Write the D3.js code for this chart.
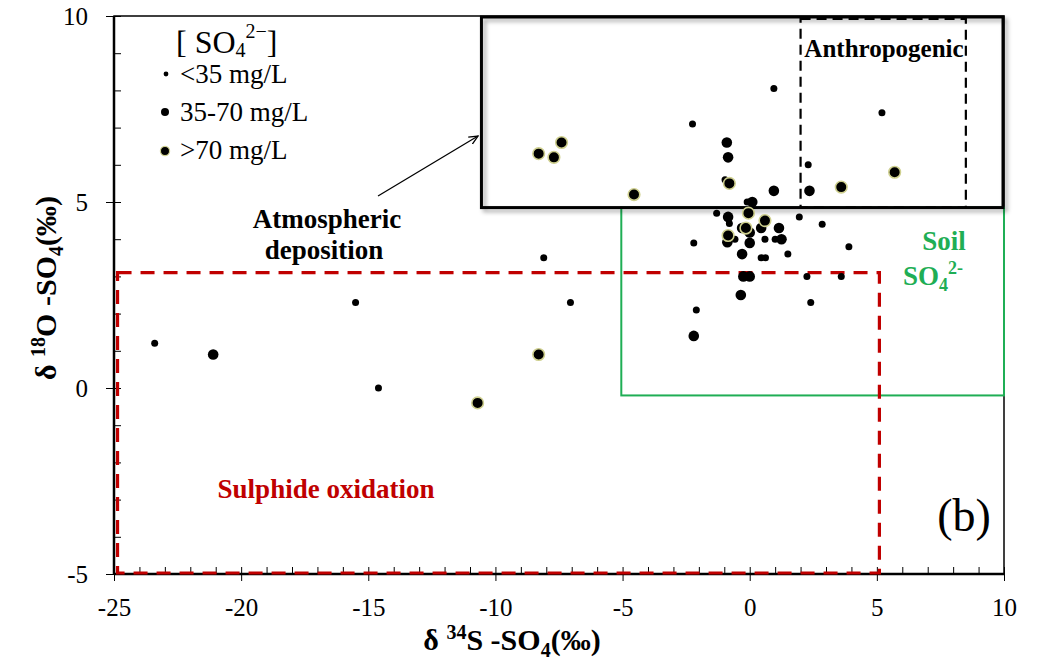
<!DOCTYPE html>
<html><head><meta charset="utf-8">
<script src="https://cdn.jsdelivr.net/npm/d3@7"></script>
<style>
body{margin:0;background:#fff;}
svg{display:block;font-family:"Liberation Serif","Times New Roman",serif;}
</style></head>
<body><svg id="c" width="1037" height="666"></svg>
<script>
// ---- data ----
const xDomain = [-25, 10];
const yDomain = [-5, 10];
const xTicks = [-25, -20, -15, -10, -5, 0, 5, 10];
const yTicks = [-5, 0, 5, 10];
// sulphate concentration classes: [δ34S, δ18O]
const lowPts = [[-23.4,1.2],[-15.5,2.3],[-14.6,0.0],[-8.1,3.5],[-7.05,2.3],[-2.25,7.1],[-2.2,3.9],[-2.1,2.1],
  [0.95,8.05],[5.2,7.4],[2.3,6.0],[-0.97,5.6],[-1.3,4.7],[-0.8,4.42],[-0.58,4.0],[0.6,4.0],[1.0,4.0],[1.5,3.6],
  [0.45,3.5],[0.62,3.5],[1.95,4.6],[2.85,4.4],[3.9,3.8],[2.25,3.0],[3.6,3.0],[2.4,2.3],[-0.1,5.0]];
const midPts = [[-21.1,0.9],[-2.2,1.4],[-0.9,6.6],[-0.85,6.2],[0.95,5.3],[2.35,5.3],[0.1,5.0],[-0.85,4.6],
  [-0.3,4.3],[0.45,4.3],[1.15,4.3],[-0.88,3.92],[0.0,4.18],[0.0,3.9],[1.25,4.0],[-0.3,3.6],[-0.25,3.0],[0.0,3.0],[-0.35,2.5]];
const highPts = [[-10.7,-0.4],[-8.3,0.9],[-8.3,6.3],[-7.7,6.2],[-7.4,6.6],[-4.55,5.2],[-0.8,5.5],[3.6,5.4],[5.7,5.8],
  [-0.05,4.7],[0.6,4.5],[-0.15,4.3],[-0.85,4.1]];
// source regions [x0, x1, y0, y1]
const atmBox = [-10.55, 10, 4.85, 10];
const anthBox = [2, 8.5, 4.85, 10];
const soilBox = [-5.05, 10, -0.2, 4.85];
const sulBox = [-24.9, 5.1, -5, 3.1];

const svg = d3.select("#c");
const x = d3.scaleLinear(xDomain, [114, 1004]);
const y = d3.scaleLinear(yDomain, [574, 16]);

const defs = svg.append("defs");
const f = defs.append("filter").attr("id","sh").attr("x","-5%").attr("y","-5%").attr("width","115%").attr("height","120%");
f.append("feDropShadow").attr("dx",3).attr("dy",3).attr("stdDeviation",2).attr("flood-color","#000").attr("flood-opacity",0.35);
const mk = defs.append("marker").attr("id","arr").attr("viewBox","0 0 10 10").attr("refX",9).attr("refY",5)
  .attr("markerWidth",10).attr("markerHeight",10).attr("orient","auto").attr("markerUnits","userSpaceOnUse");
mk.append("path").attr("d","M0,1 L9,5 L0,9").attr("fill","none").attr("stroke","#000").attr("stroke-width",1.3);

function rect(b){ return {x:x(b[0]), y:y(b[3]), w:x(b[1])-x(b[0]), h:y(b[2])-y(b[3])}; }

// plot frame
svg.append("rect").attr("x",x(-25)).attr("y",y(10)).attr("width",x(10)-x(-25)).attr("height",y(-5)-y(10))
  .attr("fill","none").attr("stroke","#000").attr("stroke-width",1.5);

// axes ticks
const gx = svg.append("g").attr("transform",`translate(0,${y(-5)})`);
gx.call(d3.axisBottom(x).tickValues(d3.range(-25,10.01,1)).tickSize(-7).tickFormat(""))
  .call(g=>g.select(".domain").remove());
gx.append("g").call(d3.axisBottom(x).tickValues(xTicks).tickSize(7).tickFormat(d=>d).tickPadding(17))
  .call(g=>g.select(".domain").remove());
const gy = svg.append("g").attr("transform",`translate(${x(-25)},0)`);
gy.call(d3.axisLeft(y).tickValues(d3.range(-5,10.01,1)).tickSize(-7).tickFormat(""))
  .call(g=>g.select(".domain").remove());
gy.append("g").call(d3.axisLeft(y).tickValues(yTicks).tickSize(8).tickFormat(d=>d).tickPadding(18))
  .call(g=>g.select(".domain").remove());
svg.selectAll(".tick line").attr("stroke","#000").attr("stroke-width",1);
svg.selectAll(".tick text").attr("font-family","Liberation Serif").attr("font-size",25).attr("fill","#000");

// axis lines bold
svg.append("line").attr("x1",x(-25)).attr("x2",x(10)).attr("y1",y(-5)).attr("y2",y(-5)).attr("stroke","#000").attr("stroke-width",2.5);
svg.append("line").attr("x1",x(-25)).attr("x2",x(-25)).attr("y1",y(-5)).attr("y2",y(10)).attr("stroke","#000").attr("stroke-width",2.5);

// soil box
let r = rect(soilBox);
svg.append("rect").attr("x",r.x).attr("y",r.y).attr("width",r.w).attr("height",r.h)
  .attr("fill","none").attr("stroke","#1fae55").attr("stroke-width",2);
// sulphide box
r = rect(sulBox);
svg.append("rect").attr("x",r.x+1).attr("y",r.y).attr("width",r.w-1).attr("height",r.h-1)
  .attr("fill","none").attr("stroke","#c00000").attr("stroke-width",3.2).attr("stroke-dasharray","14,9");
// atmospheric box
r = rect(atmBox);
svg.append("rect").attr("x",r.x).attr("y",r.y+1).attr("width",r.w-1).attr("height",r.h-1)
  .attr("fill","none").attr("stroke","#000").attr("stroke-width",3).attr("filter","url(#sh)");
// anthropogenic box
r = rect(anthBox);
svg.append("rect").attr("x",r.x).attr("y",r.y+3).attr("width",r.w).attr("height",r.h-3)
  .attr("fill","none").attr("stroke","#000").attr("stroke-width",2.2).attr("stroke-dasharray","10,6");

// points
const pg = svg.append("g");
pg.selectAll(".lo").data(lowPts).join("circle").attr("cx",d=>x(d[0])).attr("cy",d=>y(d[1])).attr("r",3.5).attr("fill","#000");
pg.selectAll(".md").data(midPts).join("circle").attr("cx",d=>x(d[0])).attr("cy",d=>y(d[1])).attr("r",5.3).attr("fill","#000");
pg.selectAll(".hi").data(highPts).join("circle").attr("cx",d=>x(d[0])).attr("cy",d=>y(d[1])).attr("r",5.8)
  .attr("fill","#000").attr("stroke","#cfd08f").attr("stroke-width",1.6);

// arrow
svg.append("line").attr("x1",378).attr("y1",196).attr("x2",478).attr("y2",136)
  .attr("stroke","#000").attr("stroke-width",1.3).attr("marker-end","url(#arr)");

// labels
function txt(t, px, py, o={}){
  const e = svg.append("text").attr("x",px).attr("y",py).attr("font-size",o.size||27)
    .attr("font-weight",o.bold?"bold":"normal").attr("fill",o.fill||"#000").attr("text-anchor",o.anchor||"start");
  if (t) e.text(t);
  return e;
}
txt("Atmospheric",327,228,{bold:1,anchor:"middle"});
txt("deposition",324,259,{bold:1,anchor:"middle"});
txt("Anthropogenic",884,57,{bold:1,anchor:"middle",size:25});
txt("Soil",944,250,{bold:1,anchor:"middle",fill:"#1fae55"});
let t = txt("",933,285,{bold:1,anchor:"middle",fill:"#1fae55"});
t.append("tspan").text("SO");
t.append("tspan").attr("dy",6).attr("font-size",18).text("4");
t.append("tspan").attr("dy",-17).attr("font-size",18).text("2-");
txt("Sulphide oxidation",326,498,{bold:1,anchor:"middle",fill:"#c00000"});
txt("(b)",964,531,{anchor:"middle",size:46});

// legend
t = txt("",176,53,{size:32});
t.append("tspan").text("[ SO");
t.append("tspan").attr("dy",4).attr("font-size",20).text("4");
t.append("tspan").attr("dy",-19).attr("font-size",20).text("2\u2212");
t.append("tspan").attr("dy",15).text("]");
txt("<35 mg/L",180,83);
txt("35-70 mg/L",180,121);
txt(">70 mg/L",180,159);
svg.append("circle").attr("cx",166).attr("cy",74).attr("r",2.4).attr("fill","#000");
svg.append("circle").attr("cx",165).attr("cy",112).attr("r",4).attr("fill","#000");
svg.append("circle").attr("cx",165).attr("cy",151).attr("r",4.6).attr("fill","#000").attr("stroke","#cfd08f").attr("stroke-width",1.2);

// axis titles
t = txt("",512,650,{bold:1,anchor:"middle",size:30});
t.append("tspan").text("\u03b4 ");
t.append("tspan").attr("dy",-11).attr("font-size",20).text("34");
t.append("tspan").attr("dy",11).text("S -SO");
t.append("tspan").attr("dy",7).attr("font-size",20).text("4");
t.append("tspan").attr("dy",-7).text("(\u2030)");

t = svg.append("text").attr("transform","translate(56,288) rotate(-90)").attr("text-anchor","middle")
  .attr("font-size",30).attr("font-weight","bold").attr("fill","#000");
t.append("tspan").text("\u03b4 ");
t.append("tspan").attr("dy",-11).attr("font-size",20).text("18");
t.append("tspan").attr("dy",11).text("O -SO");
t.append("tspan").attr("dy",7).attr("font-size",20).text("4");
t.append("tspan").attr("dy",-7).text("(\u2030)");
</script></body></html>
